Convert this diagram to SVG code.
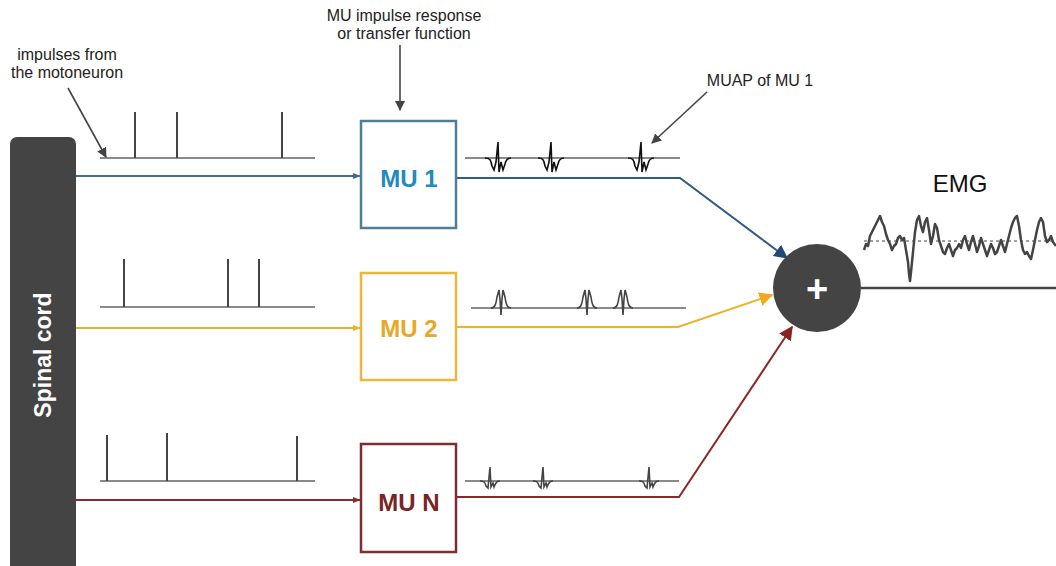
<svg xmlns="http://www.w3.org/2000/svg" width="1056" height="566" viewBox="0 0 1056 566">
<style>
text{font-family:"Liberation Sans",Arial,sans-serif}
.ann{font-size:16px;fill:#222;text-anchor:middle}
.mu{font-size:24px;font-weight:bold;text-anchor:middle}
.box{fill:#fff;stroke-width:2.5}
.base{stroke:#8a8a8a;stroke-width:2;fill:none}
.spk{stroke:#444;stroke-width:2;fill:none}
.ap{stroke:#111;stroke-width:1.6;fill:none}
.gr{stroke:#444;stroke-width:1.6;fill:none}
</style>
<defs>
<marker id="ag" viewBox="0 0 10 10" refX="9" refY="5" markerWidth="10" markerHeight="10" markerUnits="userSpaceOnUse" orient="auto"><path d="M0,0 L10,5 L0,10 z" fill="#444"/></marker>
<marker id="ib" viewBox="0 0 10 10" refX="9" refY="5" markerWidth="8" markerHeight="8" markerUnits="userSpaceOnUse" orient="auto"><path d="M0,1 L10,5 L0,9 z" fill="#3f6f8c"/></marker>
<marker id="iy" viewBox="0 0 10 10" refX="9" refY="5" markerWidth="8" markerHeight="8" markerUnits="userSpaceOnUse" orient="auto"><path d="M0,1 L10,5 L0,9 z" fill="#efb02c"/></marker>
<marker id="ir" viewBox="0 0 10 10" refX="9" refY="5" markerWidth="8" markerHeight="8" markerUnits="userSpaceOnUse" orient="auto"><path d="M0,1 L10,5 L0,9 z" fill="#8b2a2a"/></marker>
<marker id="ob" viewBox="0 0 10 10" refX="9" refY="5" markerWidth="14" markerHeight="14" markerUnits="userSpaceOnUse" orient="auto"><path d="M0,0 L10,5 L0,10 z" fill="#1f4a78"/></marker>
<marker id="oy" viewBox="0 0 10 10" refX="9" refY="5" markerWidth="14" markerHeight="14" markerUnits="userSpaceOnUse" orient="auto"><path d="M0,0 L10,5 L0,10 z" fill="#efab1c"/></marker>
<marker id="or" viewBox="0 0 10 10" refX="9" refY="5" markerWidth="14" markerHeight="14" markerUnits="userSpaceOnUse" orient="auto"><path d="M0,0 L10,5 L0,10 z" fill="#8b2222"/></marker>
<path id="ap1" d="M-13,0 C-8,0 -7,2 -6,8 L-4,12 L-2,4 L0,-16 L1,14 L3,4 L5,12 L7,6 C8,1 10,0 13,0"/>
<path id="ap2" d="M-10,0 C-6,0 -5,-4 -4,-11 L-2,-18 L-1,-9 L0,7 L1,-9 L2,-18 L4,-11 C5,-4 6,0 10,0"/>
<path id="ap3" d="M-10,0 C-6,0 -5,1 -4,5 L-2,7 L0,-14 L1,6 L3,2 L4,6 C6,1 7,0 10,0"/>
</defs>

<g id="spinal-cord">
<rect x="10" y="137" width="66" height="440" rx="7" fill="#444"/>
<text transform="translate(51,355) rotate(-90)" font-size="23" font-weight="bold" fill="#fff" text-anchor="middle">Spinal cord</text>
</g>

<g id="annotations">
<text class="ann" x="67" y="60">impulses from</text>
<text class="ann" x="67" y="78">the motoneuron</text>
<text class="ann" x="404" y="21">MU impulse response</text>
<text class="ann" x="404" y="39">or transfer function</text>
<text class="ann" x="760" y="86" font-size="17">MUAP of MU 1</text>
<text x="960" y="192" font-size="24" fill="#111" text-anchor="middle">EMG</text>
</g>

<g id="impulse-trains">
<line class="base" x1="100" y1="158" x2="315" y2="158"/>
<path class="spk" d="M135,158V112 M177,158V112 M282,158V112"/>
<line class="base" x1="100" y1="307" x2="315" y2="307"/>
<path class="spk" d="M124,307V259 M228,307V259 M259,307V259"/>
<line class="base" x1="100" y1="481" x2="315" y2="481"/>
<path class="spk" d="M107,481V435 M167,481V433 M297,481V436"/>
</g>

<g id="muap-trains">
<line class="base" x1="465" y1="158" x2="680" y2="158"/>
<use href="#ap1" class="ap" transform="translate(498,158)"/>
<use href="#ap1" class="ap" transform="translate(551,158)"/>
<use href="#ap1" class="ap" transform="translate(641,158)"/>
<line class="base" x1="471" y1="308" x2="686" y2="308"/>
<use href="#ap2" class="gr" transform="translate(501,308)"/>
<use href="#ap2" class="gr" transform="translate(587,308)"/>
<use href="#ap2" class="gr" transform="translate(623,308)"/>
<line class="base" x1="465" y1="481" x2="679" y2="481"/>
<use href="#ap3" class="gr" transform="translate(490,481)" stroke="#666"/>
<use href="#ap3" class="gr" transform="translate(543,481)" stroke="#666"/>
<use href="#ap3" class="gr" transform="translate(649,481)" stroke="#666"/>
</g>

<g id="connectors" fill="none">
<line x1="76" y1="176" x2="360" y2="176" stroke="#3f6f8c" stroke-width="2" marker-end="url(#ib)"/>
<line x1="76" y1="328" x2="360" y2="328" stroke="#efb02c" stroke-width="2" marker-end="url(#iy)"/>
<line x1="76" y1="500" x2="360" y2="500" stroke="#8b2a2a" stroke-width="2" marker-end="url(#ir)"/>
<polyline points="456,178 680,178 787,258" stroke="#2f5c80" stroke-width="2" marker-end="url(#ob)"/>
<polyline points="456,327 678,327 772,295" stroke="#efb02c" stroke-width="2" marker-end="url(#oy)"/>
<polyline points="456,497 679,497 792,327" stroke="#8b2a2a" stroke-width="2" marker-end="url(#or)"/>
<line x1="861" y1="288" x2="1056" y2="288" stroke="#444" stroke-width="2.5"/>
<line x1="68" y1="88" x2="106" y2="157" stroke="#444" stroke-width="1.6" marker-end="url(#ag)"/>
<line x1="400" y1="45" x2="400" y2="110" stroke="#444" stroke-width="1.6" marker-end="url(#ag)"/>
<line x1="707" y1="92" x2="652" y2="143" stroke="#444" stroke-width="1.6" marker-end="url(#ag)"/>
</g>

<g id="mu1">
<rect class="box" x="361" y="121" width="95" height="107" stroke="#4f7f96"/>
<text class="mu" x="409" y="187" fill="#2389bf">MU 1</text>
</g>
<g id="mu2">
<rect class="box" x="361" y="273" width="95" height="107" stroke="#ecb83a"/>
<text class="mu" x="409" y="337" fill="#e8a825">MU 2</text>
</g>
<g id="mun">
<rect class="box" x="361" y="444" width="95" height="108" stroke="#7d2e2e"/>
<text class="mu" x="409" y="511" fill="#7a2525">MU N</text>
</g>

<g id="sum">
<circle cx="817" cy="288" r="44" fill="#444"/>
<text x="817" y="302" font-size="38" font-weight="bold" fill="#fff" text-anchor="middle">+</text>
</g>

<g id="emg-signal">
<line x1="864" y1="241" x2="1056" y2="241" stroke="#444" stroke-width="1.2" stroke-dasharray="3,3"/>
<polyline fill="none" stroke="#444" stroke-width="2.5" stroke-linejoin="round" points="864,250 866,244 868,246 870,236 872,232 874,228 876,224 878,220 880,216 882,222 884,226 886,234 888,240 890,244 892,250 894,246 896,244 898,238 900,236 902,240 904,238 906,250 908,262 909,274 910,281 911,272 913,252 915,232 917,220 919,216 921,226 923,232 925,222 927,218 929,230 931,244 933,236 935,224 937,228 939,240 941,246 943,252 945,254 947,248 949,244 951,250 953,256 955,250 957,248 959,244 961,248 963,240 965,236 967,244 969,250 971,242 973,236 975,244 977,252 979,246 981,238 983,244 985,250 987,256 989,250 991,244 993,248 995,254 997,252 999,246 1001,240 1003,246 1005,252 1007,244 1009,236 1011,228 1013,222 1015,218 1017,216 1019,226 1021,240 1023,250 1025,254 1027,252 1029,256 1031,259 1033,250 1035,240 1037,230 1039,222 1041,218 1043,222 1045,236 1047,242 1049,240 1051,236 1053,242 1056,246"/>
</g>
</svg>
